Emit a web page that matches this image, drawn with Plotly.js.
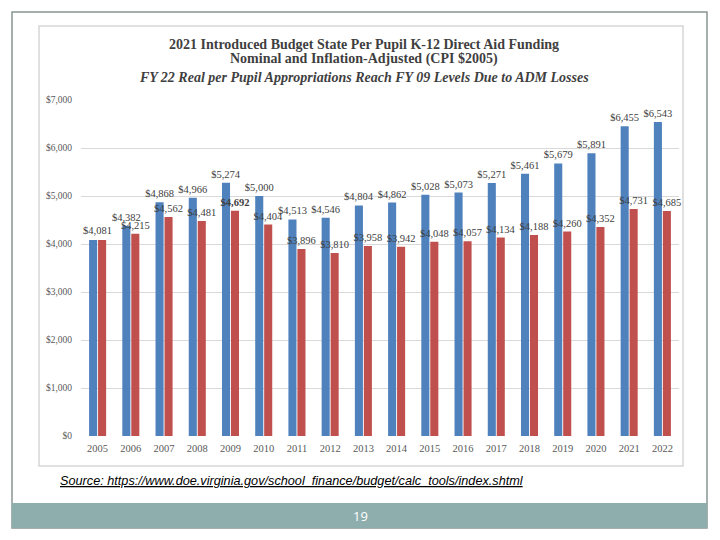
<!DOCTYPE html>
<html>
<head>
<meta charset="utf-8">
<script src="https://cdn.plot.ly/plotly-3.0.1.min.js"></script>
<style>
  html, body { margin: 0; padding: 0; background: #ffffff; }
  #chart { width: 720px; height: 540px; }
</style>
</head>
<body>
<div id="chart"></div>
<script>
// Fiscal years shown on the category axis
const years = ['2005','2006','2007','2008','2009','2010','2011','2012','2013',
               '2014','2015','2016','2017','2018','2019','2020','2021','2022'];

// State per pupil K-12 direct aid, nominal dollars
const nominal = [4081, 4382, 4868, 4966, 5274, 5000, 4513, 4546, 4804,
                 4862, 5028, 5073, 5271, 5461, 5679, 5891, 6455, 6543];

// Same series deflated to 2005 dollars (CPI)
const real = [4081, 4215, 4562, 4481, 4692, 4404, 3896, 3810, 3958,
              3942, 4048, 4057, 4134, 4188, 4260, 4352, 4731, 4685];

// Value axis ticks
const yTickVals = [0, 1000, 2000, 3000, 4000, 5000, 6000, 7000];
const yTickText = ['$0', '$1,000', '$2,000', '$3,000', '$4,000', '$5,000', '$6,000', '$7,000'];

const W = 720, H = 540;
const px = x => x / W;          // pixel -> paper x
const py = y => 1 - y / H;      // pixel -> paper y

const money = v => '$' + v.toLocaleString('en-US');
const serif = '"Liberation Serif", "Times New Roman", serif';
const labelFont = { family: serif, size: 10.5, color: '#404040' };

// In the base year both series are equal, so one shared label sits over the pair
const baseIdx = 0;
const nominalText = nominal.map((v, i) => i === baseIdx ? '' : money(v));
// The FY09 real value is emphasised in bold
const realText = real.map((v, i) =>
  i === baseIdx ? '' : (years[i] === '2009' ? '<b>' + money(v) + '</b>' : money(v)));

const traces = [
  {
    type: 'bar', name: 'Nominal', x: years, y: nominal,
    marker: { color: '#4f81bd' },
    text: nominalText, textposition: 'outside', constraintext: 'none',
    cliponaxis: false, textfont: labelFont
  },
  {
    type: 'bar', name: 'Inflation-Adjusted (CPI $2005)', x: years, y: real,
    marker: { color: '#c0504d' },
    text: realText, textposition: 'outside', constraintext: 'none',
    cliponaxis: false, textfont: labelFont
  }
];

const titleColor = '#3f3f3f';

const layout = {
  width: W, height: H, autosize: false,
  margin: { l: 0, r: 0, t: 0, b: 0 },
  paper_bgcolor: '#ffffff', plot_bgcolor: '#ffffff',
  showlegend: false,
  barmode: 'group', bargap: 0.46, bargroupgap: 0.1,
  font: { family: serif, color: '#595959' },
  xaxis: {
    domain: [px(81), px(679)],
    type: 'category',
    range: [-0.5, years.length - 0.5],
    showgrid: false, zeroline: false, showline: false, ticks: '',
    tickfont: { family: serif, size: 10.5, color: '#595959' },
    ticklabelstandoff: 4
  },
  yaxis: {
    domain: [py(436), py(100)],
    range: [0, 7000],
    tickvals: yTickVals, ticktext: yTickText,
    showgrid: true, gridcolor: '#d9d9d9', gridwidth: 1,
    zeroline: false, showline: false, ticks: '',
    tickfont: { family: serif, size: 9.5, color: '#595959' },
    ticklabelstandoff: 8
  },
  shapes: [
    // slide frame
    { type: 'rect', xref: 'paper', yref: 'paper',
      x0: px(12), x1: px(707), y0: py(528), y1: py(12),
      line: { color: '#8a9494', width: 1.5 }, fillcolor: 'rgba(0,0,0,0)', layer: 'below' },
    // chart panel border
    { type: 'rect', xref: 'paper', yref: 'paper',
      x0: px(39), x1: px(683), y0: py(466), y1: py(26),
      line: { color: '#d6d6d6', width: 1.5 }, fillcolor: 'rgba(0,0,0,0)', layer: 'below' },
    // footer band
    { type: 'rect', xref: 'paper', yref: 'paper',
      x0: px(12), x1: px(707), y0: py(528), y1: py(503),
      line: { width: 0 }, fillcolor: '#8eadad', layer: 'below' }
  ],
  annotations: [
    // shared base-year label, centred over the 2005 pair (category index on the x axis)
    { xref: 'x', yref: 'y', x: baseIdx, y: Math.max(nominal[baseIdx], real[baseIdx]),
      xanchor: 'center', yanchor: 'bottom', yshift: 2, showarrow: false,
      text: money(nominal[baseIdx]), font: labelFont },
    { xref: 'paper', yref: 'paper', x: px(364), y: py(44), xanchor: 'center', yanchor: 'middle',
      showarrow: false, text: '<b>2021 Introduced Budget State Per Pupil K-12 Direct Aid Funding</b>',
      font: { family: serif, size: 14, color: titleColor } },
    { xref: 'paper', yref: 'paper', x: px(364), y: py(59), xanchor: 'center', yanchor: 'middle',
      showarrow: false, text: '<b>Nominal and Inflation-Adjusted (CPI $2005)</b>',
      font: { family: serif, size: 14, color: titleColor } },
    { xref: 'paper', yref: 'paper', x: px(364), y: py(78), xanchor: 'center', yanchor: 'middle',
      showarrow: false, text: '<b><i>FY 22 Real per Pupil Appropriations Reach FY 09 Levels Due to ADM Losses</i></b>',
      font: { family: serif, size: 14, color: titleColor } },
    { xref: 'paper', yref: 'paper', x: px(58), y: py(481), xanchor: 'left', yanchor: 'middle',
      showarrow: false,
      text: '<i><span style="text-decoration:underline">Source: https://www.doe.virginia.gov/school_finance/budget/calc_tools/index.shtml</span></i>',
      font: { family: '"Liberation Sans", Arial, sans-serif', size: 12.7, color: '#000000' } },
    { xref: 'paper', yref: 'paper', x: px(360), y: py(516), xanchor: 'center', yanchor: 'middle',
      showarrow: false, text: '19',
      font: { family: '"Open Sans", "DejaVu Sans", sans-serif', size: 13, color: '#ffffff' } }
  ]
};

Plotly.newPlot('chart', traces, layout, { staticPlot: true, displayModeBar: false });
</script>
</body>
</html>
